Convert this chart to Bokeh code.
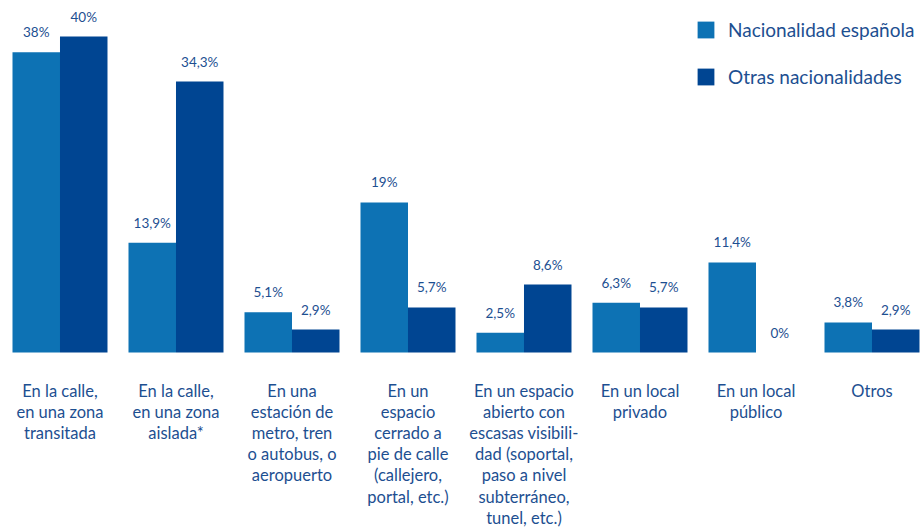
from bokeh.plotting import figure
from bokeh.models import ColumnDataSource, Range1d, Legend, LegendItem
from bokeh.core.properties import value
from bokeh.embed import file_html
from bokeh.resources import INLINE

categories = [
    "En la calle,\nen una zona\ntransitada",
    "En la calle,\nen una zona\naislada*",
    "En una\nestación de\nmetro, tren\no autobus, o\naeropuerto",
    "En un\nespacio\ncerrado a\npie de calle\n(callejero,\nportal, etc.)",
    "En un espacio\nabierto con\nescasas visibili-\ndad (soportal,\npaso a nivel\nsubterráneo,\ntunel, etc.)",
    "En un local\nprivado",
    "En un local\npúblico",
    "Otros",
]
espanola = [38, 13.9, 5.1, 19, 2.5, 6.3, 11.4, 3.8]
otras = [40, 34.3, 2.9, 5.7, 8.6, 5.7, 0, 2.9]
series_names = ["Nacionalidad española", "Otras nacionalidades"]

LIGHT = "#0d72b4"
DARK = "#004592"
TXT = "#1d4f91"
FONT = value("Lato")

def fmt(v):
    return f"{v:g}".replace(".", ",") + "%"

idx = list(range(len(categories)))
src_a = ColumnDataSource(dict(x=[i - 0.2047 for i in idx], top=espanola, lab=[fmt(v) for v in espanola]))
src_b = ColumnDataSource(dict(x=[i + 0.2047 for i in idx], top=otras, lab=[fmt(v) for v in otras]))
src_c = ColumnDataSource(dict(x=idx, y=[0] * len(idx), lab=categories))

p = figure(width=923, height=528, output_backend="svg", toolbar_location=None,
           x_range=Range1d(-0.5129, 7.444), y_range=Range1d(-22.28, 44.56),
           min_border=0)
p.axis.visible = False
p.grid.visible = False
p.outline_line_color = None
p.background_fill_color = "white"
p.border_fill_color = "white"

ra = p.vbar(x="x", top="top", bottom=0, width=0.4095, fill_color=LIGHT, line_color=None, source=src_a)
rb = p.vbar(x="x", top="top", bottom=0, width=0.4095, fill_color=DARK, line_color=None, source=src_b)

for s in (src_a, src_b):
    p.text(x="x", y="top", text="lab", source=s, text_align="center", text_baseline="middle",
           y_offset=-20, text_font=FONT, text_font_size="13.5px", text_color=TXT)

p.text(x="x", y="y", text="lab", source=src_c, text_align="center", text_baseline="top",
       y_offset=28, text_font=FONT, text_font_size="16.5px", text_color=TXT, text_line_height=1.06)

legend = Legend(items=[LegendItem(label=series_names[0], renderers=[ra]),
                       LegendItem(label=series_names[1], renderers=[rb])],
                location=(695, 440), orientation="vertical",
                glyph_width=21, glyph_height=21, spacing=24, padding=0, margin=0,
                label_standoff=12, label_text_font="Lato", label_text_font_size="19px",
                label_text_color=TXT, border_line_alpha=0, background_fill_alpha=0)
p.add_layout(legend)

open("out.html", "w").write(file_html(p, INLINE))
